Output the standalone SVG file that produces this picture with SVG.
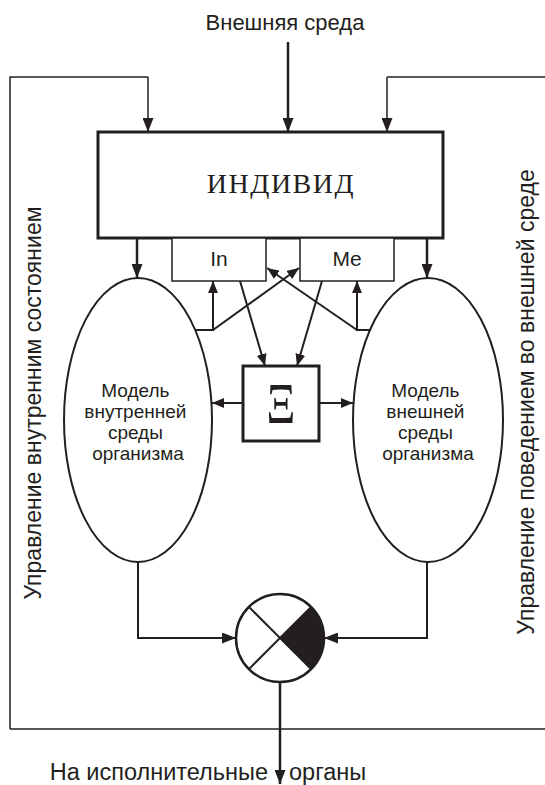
<svg xmlns="http://www.w3.org/2000/svg" width="545" height="785" viewBox="0 0 545 785">
<style>
.ln{fill:none;stroke:#231f20;stroke-width:2}
.thin{fill:none;stroke:#231f20;stroke-width:1.5}
.thick{fill:none;stroke:#231f20;stroke-width:2.5}
.sans{font-family:"Liberation Sans",Arial,sans-serif;fill:#231f20}
.serif{font-family:"Liberation Serif","Times New Roman",serif;fill:#231f20}
</style>
<defs>
<marker id="ah" markerUnits="userSpaceOnUse" markerWidth="14" markerHeight="11" refX="14" refY="5.5" orient="auto">
<path d="M0,0 L14,5.5 L0,11 z" fill="#231f20"/>
</marker>
<marker id="ahs" markerUnits="userSpaceOnUse" markerWidth="12" markerHeight="10" refX="12" refY="5" orient="auto">
<path d="M0,0 L12,5 L0,10 z" fill="#231f20"/>
</marker>
</defs>
<rect width="545" height="785" fill="#fff"/>

<g id="connectors">
  <line class="thick" x1="288" y1="42" x2="288" y2="132" marker-end="url(#ah)"/>
  <polyline class="thin" points="10,729 10,77 148,77"/>
  <line class="thin" x1="148" y1="77" x2="148" y2="132" marker-end="url(#ah)"/>
  <polyline class="thin" points="545,77 387,77"/>
  <line class="thin" x1="387" y1="77" x2="387" y2="132" marker-end="url(#ah)"/>
  <line class="thin" x1="10" y1="729" x2="545" y2="729"/>
  <line class="thick" x1="137" y1="238" x2="137" y2="278" marker-end="url(#ah)"/>
  <line class="thick" x1="427" y1="238" x2="427" y2="278" marker-end="url(#ah)"/>
  <polyline class="ln" points="195,330 213,330 213,281" marker-end="url(#ahs)"/>
  <line class="ln" x1="213" y1="330" x2="299" y2="268" marker-end="url(#ahs)"/>
  <polyline class="ln" points="371,330 357,330 357,281" marker-end="url(#ahs)"/>
  <line class="ln" x1="357" y1="330" x2="267" y2="268" marker-end="url(#ahs)"/>
  <line class="ln" x1="240" y1="281" x2="265" y2="366" marker-end="url(#ahs)"/>
  <line class="ln" x1="322" y1="281" x2="297" y2="366" marker-end="url(#ahs)"/>
  <line class="ln" x1="243" y1="403" x2="212" y2="403" marker-end="url(#ahs)"/>
  <line class="ln" x1="319" y1="403" x2="353" y2="403" marker-end="url(#ahs)"/>
  <polyline class="ln" points="138,562 138,638 236,638" marker-end="url(#ah)"/>
  <polyline class="ln" points="427,562 427,638 324,638" marker-end="url(#ah)"/>
  <line class="thick" x1="280" y1="682" x2="280" y2="784" marker-end="url(#ah)"/>
</g>

<g id="individ">
  <rect x="98" y="132" width="345" height="106" fill="#fff" stroke="#231f20" stroke-width="3"/>
  <text class="serif" x="281" y="193" font-size="28" letter-spacing="1.5" text-anchor="middle">ИНДИВИД</text>
</g>
<g id="in">
  <rect x="172" y="238" width="94" height="43" fill="#fff" stroke="#231f20" stroke-width="1.5"/>
  <text class="sans" x="219" y="266" font-size="21" text-anchor="middle">In</text>
</g>
<g id="me">
  <rect x="300" y="238" width="94" height="43" fill="#fff" stroke="#231f20" stroke-width="1.5"/>
  <text class="sans" x="347" y="266" font-size="21" text-anchor="middle">Me</text>
</g>
<g id="xi">
  <rect x="243" y="366" width="76" height="75" fill="#fff" stroke="#231f20" stroke-width="3"/>
  <text class="serif" transform="translate(281,423) scale(0.8,1)" font-size="56" text-anchor="middle">Ξ</text>
</g>
<g id="model-in">
  <ellipse cx="138" cy="420" rx="74" ry="142" fill="none" stroke="#231f20" stroke-width="2"/>
  <text class="sans" font-size="19" text-anchor="middle">
    <tspan x="138" y="397">Модель</tspan>
    <tspan x="138" y="418">внутренней</tspan>
    <tspan x="138" y="439">среды</tspan>
    <tspan x="138" y="460">организма</tspan>
  </text>
</g>
<g id="model-out">
  <ellipse cx="428" cy="420" rx="75" ry="142" fill="none" stroke="#231f20" stroke-width="2"/>
  <text class="sans" font-size="19" text-anchor="middle">
    <tspan x="428" y="397">Модель</tspan>
    <tspan x="428" y="418">внешней</tspan>
    <tspan x="428" y="439">среды</tspan>
    <tspan x="428" y="460">организма</tspan>
  </text>
</g>
<g id="comparator">
  <circle cx="280" cy="638" r="44" fill="#fff" stroke="#231f20" stroke-width="2.5"/>
  <path d="M280,638 L311.1,606.9 A44,44 0 0,1 311.1,669.1 Z" fill="#231f20"/>
  <line class="ln" x1="248.9" y1="606.9" x2="311.1" y2="669.1"/>
  <line class="ln" x1="248.9" y1="669.1" x2="311.1" y2="606.9"/>
</g>

<g id="labels">
  <text class="sans" x="285" y="30" font-size="22" text-anchor="middle">Внешняя среда</text>
  <text class="sans" transform="translate(41,403) rotate(-90)" font-size="23" text-anchor="middle">Управление внутренним состоянием</text>
  <text class="sans" transform="translate(534,402) rotate(-90)" font-size="23" text-anchor="middle">Управление поведением во внешней среде</text>
  <text class="sans" x="268" y="780" font-size="23.5" text-anchor="end">На исполнительные</text>
  <text class="sans" x="289" y="780" font-size="23.5">органы</text>
</g>
</svg>
